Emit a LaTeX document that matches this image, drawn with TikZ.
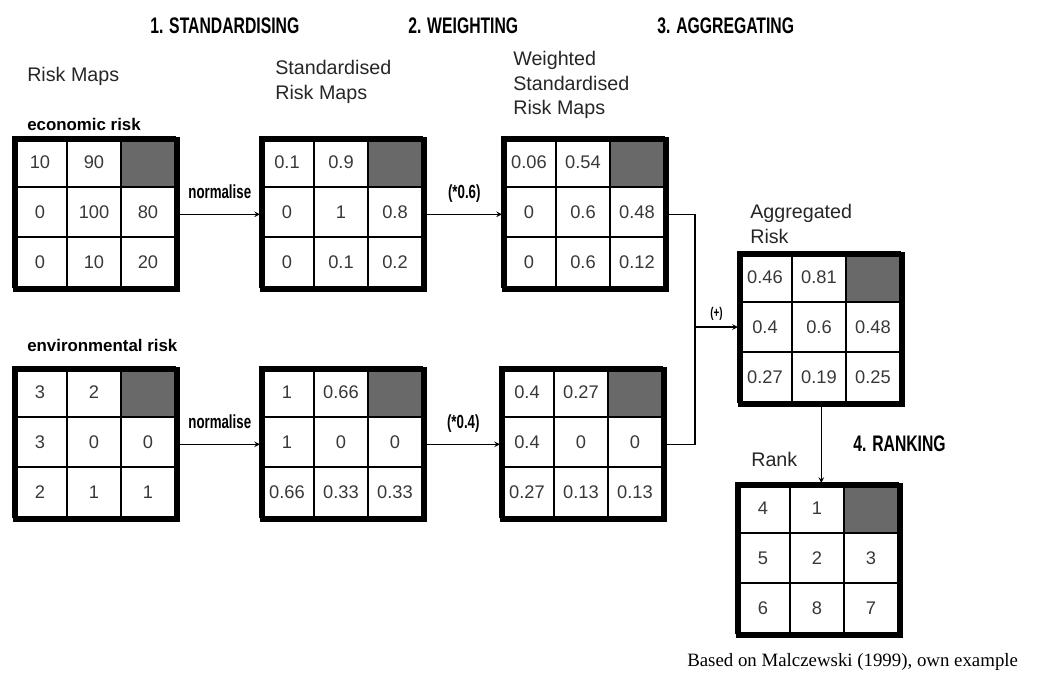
\documentclass[tikz,border=0pt]{standalone}
\usepackage{fontspec}
\setmainfont{Liberation Sans}
\newfontfamily\narrowfont[FakeStretch=0.7]{Liberation Sans}
\newfontfamily\notefont{Liberation Serif}
\definecolor{cellgrey}{HTML}{696969}
\definecolor{celltext}{HTML}{383838}

\tikzset{
  cell/.style={draw, line width=0.8pt, minimum width=1.35cm, minimum height=1.25cm,
    inner sep=0pt, text=celltext, font=\fontsize{13}{15}\selectfont},
  mapframe/.style={draw, line width=3.2pt, minimum width=4.05cm, minimum height=3.75cm, inner sep=0pt},
  link/.style={line width=0.8pt},
  heading/.style={anchor=base west, inner sep=0pt, font=\narrowfont\bfseries\fontsize{16}{18}\selectfont},
  steplabel/.style={inner sep=0pt, font=\narrowfont\bfseries\fontsize{13.5}{15}\selectfont},
  maptitle/.style={anchor=base west, inner sep=0pt, align=left, text=black!85, font=\fontsize{14}{17.5}\selectfont},
  riskname/.style={anchor=base west, inner sep=0pt, font=\bfseries\fontsize{12}{14}\selectfont},
  note/.style={anchor=base west, inner sep=0pt, font=\notefont\fontsize{13.4}{15}\selectfont}
}

% one 3x3 risk map, top left corner at #2, cells given row by row
\newcommand{\riskmap}[3]{%
  \begin{scope}[shift={#2}]
    \fill[cellgrey] (108,0) rectangle (162,50);
    \foreach \v [count=\k from 0] in {#3} {
      \pgfmathtruncatemacro{\mapcol}{mod(\k,3)}
      \pgfmathtruncatemacro{\maprow}{\k/3}
      \node[cell] (#1-\k) at ({27+54*\mapcol},{25+50*\maprow}) {\v};
    }
    \node[mapframe, anchor=north west] (#1) at (0,0) {};
  \end{scope}}

\begin{document}
\begin{tikzpicture}[x=0.025cm, y=-0.025cm, >=stealth]
  \useasboundingbox (0,0) rectangle (1037,673);

  % steps
  \node[heading] (step1) at (150,33) {1. STANDARDISING};
  \node[heading] (step2) at (408,33) {2. WEIGHTING};
  \node[heading] (step3) at (657,33) {3. AGGREGATING};
  \node[heading] (step4) at (853,451) {4. RANKING};

  % titles
  \node[maptitle] (rawtitle) at (27,81) {Risk Maps};
  \node[maptitle, anchor=north west] (stdtitle) at (275,60) {Standardised\\Risk Maps};
  \node[maptitle, anchor=north west] (wttitle) at (513,51) {Weighted\\Standardised\\Risk Maps};
  \node[maptitle, anchor=north west] (aggtitle) at (750,204) {Aggregated\\Risk};
  \node[maptitle] (ranktitle) at (751,466) {Rank};
  \node[riskname] (econname) at (27,130) {economic risk};
  \node[riskname] (envname) at (27,351) {environmental risk};

  % maps
  \riskmap{econraw}{(13,137)}{10,90,,0,100,80,0,10,20}
  \riskmap{econstd}{(260,137)}{0.1,0.9,,0,1,0.8,0,0.1,0.2}
  \riskmap{econwt}{(502,137)}{0.06,0.54,,0,0.6,0.48,0,0.6,0.12}
  \riskmap{envraw}{(13,367)}{3,2,,3,0,0,2,1,1}
  \riskmap{envstd}{(260,367)}{1,0.66,,1,0,0,0.66,0.33,0.33}
  \riskmap{envwt}{(500,367)}{0.4,0.27,,0.4,0,0,0.27,0.13,0.13}
  \riskmap{agg}{(738,252)}{0.46,0.81,,0.4,0.6,0.48,0.27,0.19,0.25}
  \riskmap{rank}{(736,483)}{4,1,,5,2,3,6,8,7}

  % connectors
  \draw[link, ->] (econraw.east) -- (econstd.west) node[steplabel, midway, above=11pt] (econnorm) {normalise};
  \draw[link, ->] (envraw.east) -- (envstd.west) node[steplabel, midway, above=11pt] (envnorm) {normalise};
  \draw[link, ->] (econstd.east) -- (econwt.west) node[steplabel, midway, above=8pt] (econweight) {(*0.6)};
  \draw[link, ->] (envstd.east) -- (envwt.west) node[steplabel, midway, above=8pt] (envweight) {(*0.4)};
  \coordinate (join) at (695,327);
  \draw[link] (econwt.east) -| (join) |- (envwt.east);
  \draw[link, ->] (join) -- (join -| agg.west) node[steplabel, midway, above=4pt, font=\narrowfont\bfseries\fontsize{10}{11}\selectfont] (plus) {(+)};
  \draw[link, ->] (agg.south) -- (agg.south |- rank.north);

  \node[note] (source) at (687,666) {Based on Malczewski (1999), own example};
\end{tikzpicture}
\end{document}
